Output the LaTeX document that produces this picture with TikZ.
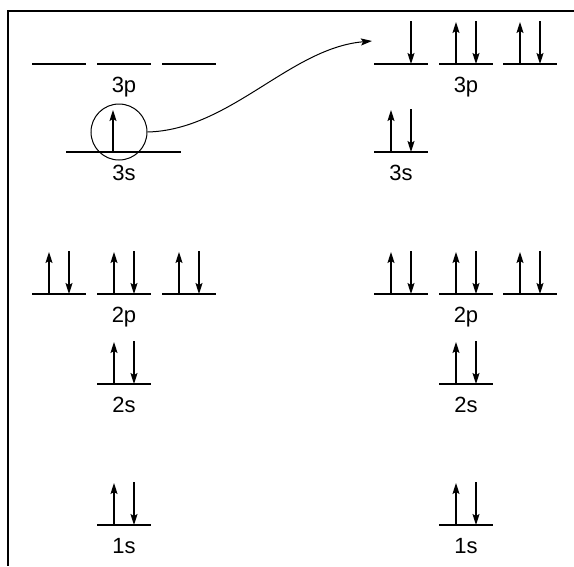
\documentclass[tikz,border=0pt]{standalone}
\usepackage{fontspec}
\setmainfont{Liberation Sans}
\usetikzlibrary{arrows.meta, positioning}

\tikzset{
	level/.style={line width=1.2pt},
	spin/.style={line width=1.2pt, -{Stealth[length=11pt, width=7pt, inset=2pt]}},
	orblabel/.style={anchor=north, inner sep=0pt, font=\fontsize{22}{24}\selectfont},
}

% one orbital line, centred at x
\newcommand{\orb}[2]{\draw[level] (#1-27,#2) -- (#1+27,#2);}
% spin up / spin down on an orbital centred at x
\newcommand{\spinup}[2]{\draw[spin] (#1-10,#2) -- (#1-10,#2-42);}
\newcommand{\spindown}[2]{\draw[spin] (#1+10,#2-43) -- (#1+10,#2);}
\newcommand{\filled}[2]{\orb{#1}{#2}\spinup{#1}{#2}\spindown{#1}{#2}}

\begin{document}
\begin{tikzpicture}[x=1pt, y=-1pt]
	\useasboundingbox (0,0) rectangle (574,566);

	% frame
	\draw[level] (574,11) -- (8,11) -- (8,566);

	% ground state (left)
	\foreach \cx in {59,124,189} {\orb{\cx}{64}}
	\node[orblabel] (l3p) at (124,77) {3p};

	\draw[level] (66,152) -- (181,152);
	\spinup{123}{152}
	\node[orblabel] (l3s) at (124,165) {3s};
	\node[draw, circle, line width=1pt, minimum size=56pt, inner sep=0pt] (c3s) at (119,132) {};

	\foreach \cx in {59,124,189} {\filled{\cx}{294}}
	\node[orblabel] (l2p) at (124,307) {2p};

	\filled{124}{384}
	\node[orblabel] (l2s) at (124,397) {2s};

	\filled{124}{525}
	\node[orblabel] (l1s) at (124,538) {1s};

	% excited state (right)
	\orb{401}{64}
	\spindown{401}{64}
	\filled{466}{64}
	\filled{530}{64}
	\node[orblabel] (r3p) at (466,77) {3p};

	\filled{401}{152}
	\node[orblabel] (r3s) at (401,165) {3s};

	\foreach \cx in {401,466,530} {\filled{\cx}{294}}
	\node[orblabel] (r2p) at (466,307) {2p};

	\filled{466}{384}
	\node[orblabel] (r2s) at (466,397) {2s};

	\filled{466}{525}
	\node[orblabel] (r1s) at (466,538) {1s};

	% promotion of the electron
	\coordinate (tgt) at (372,41);
	\draw[spin, line width=1pt] (c3s.east) .. controls (230,130) and (290,48) .. (tgt);
\end{tikzpicture}
\end{document}
